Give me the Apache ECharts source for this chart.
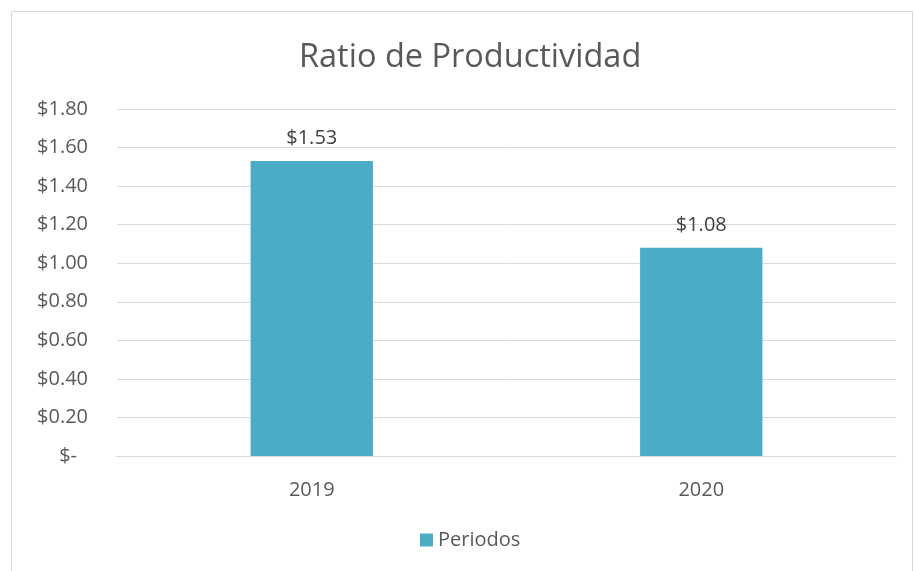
<!DOCTYPE html>
<html><head><meta charset="utf-8">
<script src="https://cdn.jsdelivr.net/npm/echarts@6/dist/echarts.min.js"></script>
<style>html,body{margin:0;padding:0;background:#fff}#c{width:914px;height:571px}</style>
</head><body><div id="c"></div>
<script>
const categories = ['2019', '2020'];
const values = [1.53, 1.08];
const seriesName = 'Periodos';
const titleText = 'Ratio de Productividad';

const font = '"Open Sans", "Noto Sans", sans-serif';
const chart = echarts.init(document.getElementById('c'), null, {renderer: 'canvas'});
const fmt = v => v === 0 ? '{z|$-}' : '$' + v.toFixed(2);
chart.setOption({
  backgroundColor: '#fff',
  animation: false,
  graphic: [{type: 'rect', shape: {x: 11.5, y: 11.5, width: 901, height: 580}, style: {fill: 'none', stroke: '#D9D9D9', lineWidth: 1}}],
  title: {text: titleText, left: 294, top: 36, textStyle: {fontFamily: font, fontSize: 32.5, fontWeight: 'normal', color: '#595959'}},
  legend: {bottom: 16, left: 415, itemWidth: 13, itemHeight: 13, itemGap: 7, icon: 'rect',
    textStyle: {fontFamily: font, fontSize: 20, color: '#595959'}},
  grid: {left: 117, right: 18, top: 109, bottom: 115, containLabel: false},
  xAxis: {type: 'category', data: categories,
    axisLine: {show: true, lineStyle: {color: '#D9D9D9', width: 1}},
    axisTick: {show: false},
    axisLabel: {fontFamily: font, fontSize: 20, color: '#595959', margin: 24}},
  yAxis: {type: 'value', min: 0, max: 1.8, interval: 0.2,
    axisLine: {show: false}, axisTick: {show: false},
    splitLine: {lineStyle: {color: '#D9D9D9', width: 1}},
    axisLabel: {fontFamily: font, fontSize: 20, color: '#595959', margin: 29, formatter: fmt,
      rich: {z: {fontFamily: font, fontSize: 20, color: '#595959', padding: [0, 11, 0, 0]}}}},
  series: [{name: seriesName, type: 'bar', data: values, barWidth: '31.4%',
    itemStyle: {color: '#4BACC6'},
    label: {show: true, position: 'top', distance: 13, fontFamily: font, fontSize: 20, color: '#404040',
      formatter: p => '$' + p.value.toFixed(2)}}]
});
</script></body></html>
